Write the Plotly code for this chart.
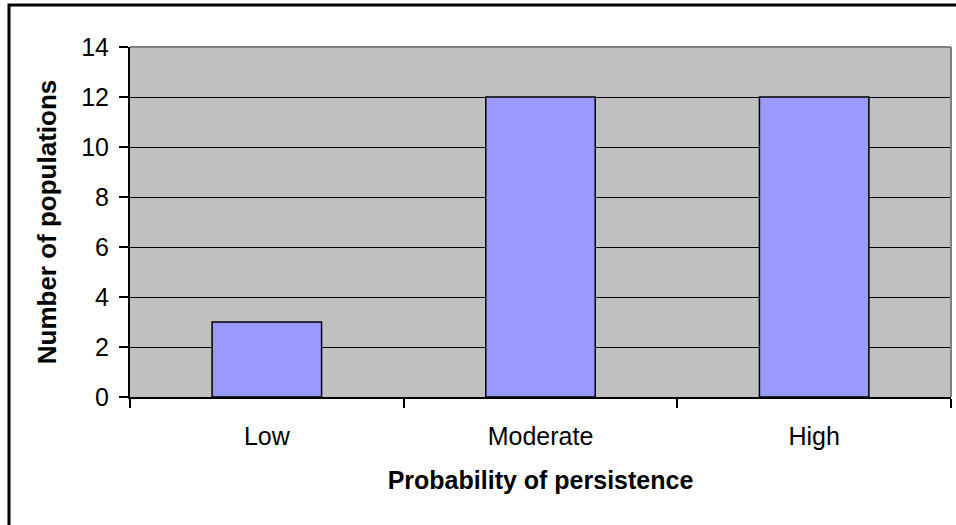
import plotly.graph_objects as go

categories = ["Low", "Moderate", "High"]
populations = [3, 12, 12]
y_ticks = [0, 2, 4, 6, 8, 10, 12, 14]

FONT = "Liberation Sans, Arial, sans-serif"

fig = go.Figure(go.Bar(
    x=categories, y=populations,
    marker=dict(color="#9999FF", line=dict(color="black", width=1.5)),
    width=0.4,
    hoverinfo="skip",
))

L, R, T, B = 130, 5, 47, 128
W, H = 956, 525
pw, ph = W - L - R, H - T - B

def px_x(x):
    return (x - L) / pw

def px_y(y):
    return (H - B - y) / ph

fig.update_layout(
    width=W, height=H,
    margin=dict(l=L, r=R, t=T, b=B),
    paper_bgcolor="white",
    plot_bgcolor="#C0C0C0",
    showlegend=False,
    font=dict(family=FONT, color="black", size=25),
    xaxis=dict(
        type="category",
        tickson="boundaries",
        ticks="outside", ticklen=9, tickwidth=2, tickcolor="black",
        showline=True, linecolor="black", linewidth=2,
        showgrid=False,
        tickfont=dict(size=25),
        ticklabelstandoff=16,
        title=dict(text="<b>Probability of persistence</b>", font=dict(size=25), standoff=22),
    ),
    yaxis=dict(
        range=[0, 14],
        tickvals=y_ticks,
        ticks="outside", ticklen=9, tickwidth=2, tickcolor="black",
        showline=True, linecolor="black", linewidth=2,
        showgrid=True, gridcolor="black", gridwidth=1,
        zeroline=False,
        tickfont=dict(size=25),
        ticklabelstandoff=5,
        title=dict(text="<b>Number of populations</b>", font=dict(size=26), standoff=17),
    ),
    shapes=[
        dict(type="line", xref="paper", yref="paper", x0=0, x1=1, y0=1, y1=1,
             line=dict(color="#808080", width=2)),
        dict(type="line", xref="paper", yref="paper", x0=1, x1=1, y0=0, y1=1,
             line=dict(color="#808080", width=2)),
        dict(type="rect", xref="paper", yref="paper",
             x0=px_x(9), x1=px_x(966), y0=px_y(535), y1=px_y(5),
             line=dict(color="black", width=3), fillcolor="rgba(0,0,0,0)"),
    ],
    bargap=0.6,
)

fig.write_html("out.html", config={"displayModeBar": False},
               post_script="document.body.style.margin='0';document.body.style.padding='0';")
